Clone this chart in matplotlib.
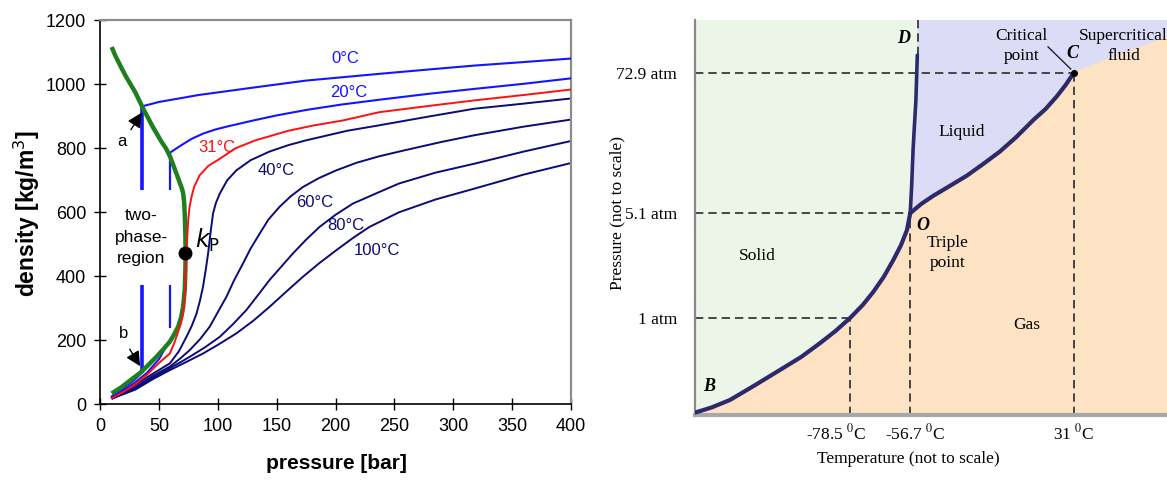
import matplotlib
matplotlib.use("Agg")
import matplotlib.pyplot as plt

# ---------------- left panel: CO2 density isotherms ----------------
p_0C = [35.3, 50, 84, 130, 175, 237, 280, 318, 360, 400]
rho_0C = [931, 945, 967, 990, 1012, 1033, 1047, 1059, 1070, 1081]
p_0C_gas = [10, 20, 30, 35.3]
rho_0C_gas = [24, 48, 78, 97]

p_20C = [59.3, 65, 70, 78, 87.5, 98, 110, 130, 150, 175, 205, 237, 280, 318, 360, 400]
rho_20C = [786, 800, 812, 830, 846, 859, 870, 887, 903, 920, 937, 952, 971, 986, 1002, 1019]
p_20C_gas = [10, 20, 30, 40, 50, 57]
rho_20C_gas = [20, 42, 68, 98, 140, 185]

p_31C = [10, 20, 30, 40, 50, 59.3, 63, 66, 68.5, 70.6, 71.6, 72.3, 73, 73.4, 74.2, 74.9,
         76, 77.7, 80, 84.7, 92, 102, 115, 132, 160, 182, 206, 237, 280, 318, 360, 400]
rho_31C = [18, 38, 62, 92, 128, 158, 190, 222, 250, 283, 320, 367, 430, 471, 530, 575,
           615, 648, 680, 716, 745, 768, 800, 825, 855, 872, 887, 913, 933, 950, 967, 984]

p_40C = [10.7, 30, 45, 59.3, 67, 73.4, 78, 82, 85, 87.5, 89.8, 91.8, 94, 96, 98.5,
         101.7, 108, 115.8, 128, 144, 160, 175, 210, 237, 280, 318, 360, 400]
rho_40C = [18, 60, 95, 127, 165, 210, 245, 283, 325, 367, 420, 471, 540, 596, 630,
           658, 700, 731, 763, 790, 810, 825, 855, 872, 900, 924, 940, 956]

p_60C = [10.7, 30, 45, 59.3, 68, 76.3, 85, 93.2, 100, 107.3, 114, 121.5, 128, 135.6,
         143, 152.5, 162, 172.3, 186, 200.6, 218, 237, 260, 290, 318, 360, 400]
rho_60C = [18, 53, 88, 117, 142, 169, 203, 242, 287, 335, 388, 440, 487, 533,
           577, 617, 650, 679, 707, 731, 755, 775, 795, 820, 841, 868, 890]

p_80C = [10.7, 30, 45, 59.3, 68, 76.3, 89, 101.7, 113, 124.3, 134, 144, 154, 163.8,
         175, 186.4, 200, 214.7, 237, 254, 285, 318, 360, 400]
rho_80C = [18, 48, 82, 112, 130, 148, 177, 210, 250, 294, 340, 388, 430, 471,
           514, 554, 592, 627, 663, 690, 724, 752, 790, 823]

p_100C = [10.7, 30, 45, 59.3, 73, 87.5, 101, 115.8, 130, 144, 158, 172.3, 186, 200.6,
          215, 228.8, 254, 285, 318, 360, 400]
rho_100C = [18, 45, 78, 106, 131, 158, 187, 221, 260, 304, 351, 398, 440, 481,
            520, 554, 600, 640, 674, 718, 754]

# coexistence (saturation) curve
p_sat = [9.9, 13, 16, 19, 22, 26, 30, 36.7, 45, 52, 56, 59.3, 62, 64, 66.5, 68, 69.5,
         70.6, 71.5, 72, 72.5, 72.7, 72.5, 72, 70.6, 68.8, 66.4, 63, 59.3, 53, 48, 41,
         35.3, 30, 25, 18, 9.9]
rho_sat = [1117, 1090, 1068, 1046, 1025, 1000, 975, 924, 866, 822, 800, 776, 750, 730,
           705, 690, 675, 660, 630, 590, 530, 471, 420, 360, 304, 270, 242, 218, 195,
           168, 148, 122, 101, 86, 72, 52, 33]

# two-phase tie lines (vertical) at 0 and 20 degC, broken around the label
tie_p = [35.3, 59.3]
tie_top = [931, 786]
tie_bottom = [97, 237]
gap_lo, gap_hi = 372, 670

crit_p, crit_rho = 72.4, 471

# ---------------- right panel: CO2 phase diagram (schematic) ----------------
subl_T = [0, 3.5, 7.4, 12.5, 18.0, 22.5, 26.5, 29.8, 32.8, 35.5, 37.8, 40.0, 42.0,
          43.6, 44.9, 45.6]
subl_P = [0.6, 1.9, 3.8, 7.4, 11.4, 14.7, 18.2, 21.3, 24.5, 27.8, 31.2, 35.0, 39.2,
          42.9, 46.8, 51.1]
melt_T = [45.6, 45.9, 46.2, 46.5, 46.8, 47.1]
melt_P = [51.1, 58.0, 67.1, 73.5, 79.7, 91.1]
vap_T = [45.6, 48.0, 50.5, 54.0, 57.6, 61.0, 64.6, 68.0, 71.7, 74.3, 76.6, 78.5, 80.3]
vap_P = [51.1, 53.5, 55.5, 58.0, 60.6, 63.5, 66.7, 70.3, 74.7, 77.5, 80.6, 83.5, 86.7]
super_T = [80.3, 85.8, 100]
super_P = [86.7, 89.4, 95.7]

T_marks = [32.8, 45.6, 80.3]
T_labels = ["-78.5 $^{0}$C", "-56.7 $^{0}$C", "31 $^{0}$C"]
P_marks = [86.7, 51.1, 24.5]
P_labels = ["72.9 atm", "5.1 atm", "1 atm"]
D_T = 47.2

fig = plt.figure(figsize=(11.67, 4.86), dpi=100)
W, H = 1167, 486

# ---- left axes ----
ax = fig.add_axes([100 / W, (H - 404) / H, 471 / W, 383.5 / H])
sans = ["Liberation Sans", "DejaVu Sans"]
blue, navy, red, green = "#1414ff", "#0b0b78", "#ff1010", "#1f7f1f"

for pp, rr in [(p_40C, rho_40C), (p_60C, rho_60C), (p_80C, rho_80C), (p_100C, rho_100C)]:
    ax.plot(pp, rr, color=navy, lw=1.4, zorder=2)
ax.plot(p_0C_gas, rho_0C_gas, color=blue, lw=1.5, zorder=2)
ax.plot(p_20C_gas, rho_20C_gas, color=blue, lw=1.5, zorder=2)
ax.plot(p_0C, rho_0C, color=blue, lw=1.5, zorder=3)
ax.plot(p_20C, rho_20C, color=blue, lw=1.5, zorder=3)
for i, (x, t, b) in enumerate(zip(tie_p, tie_top, tie_bottom)):
    w = 2.6 if i == 0 else 1.6
    ax.plot([x, x], [gap_hi, t], color=blue, lw=w, zorder=3, solid_capstyle="butt")
    ax.plot([x, x], [b, gap_lo], color=blue, lw=w, zorder=3, solid_capstyle="butt")
ax.plot(p_sat, rho_sat, color=green, lw=3.2, zorder=4, solid_capstyle="butt")
ax.plot(p_31C, rho_31C, color=red, lw=1.4, zorder=5)
ax.plot([crit_p], [crit_rho], "o", color="black", ms=9, zorder=6)

ax.set_xlim(0, 400)
ax.set_ylim(0, 1200)
ax.set_xticks(range(0, 401, 50))
ax.set_yticks(range(0, 1201, 200))
ax.tick_params(direction="inout", length=8, width=1, labelsize=13, pad=6)
for lab in ax.get_xticklabels() + ax.get_yticklabels():
    lab.set_family(sans)
for s in ["top", "right"]:
    ax.spines[s].set_color("#8c8c8c")
    ax.spines[s].set_linewidth(1.6)
for s in ["left", "bottom"]:
    ax.spines[s].set_linewidth(1.2)

lab_kw = dict(family=sans, fontsize=12, ha="center", va="center")
ax.text(208, 1082, "0°C", color=blue, **lab_kw)
ax.text(211, 975, "20°C", color=blue, **lab_kw)
ax.text(99, 804, "31°C", color=red, **lab_kw)
ax.text(150, 731, "40°C", color=navy, **lab_kw)
ax.text(182, 632, "60°C", color=navy, **lab_kw)
ax.text(209, 559, "80°C", color=navy, **lab_kw)
ax.text(235, 481, "100°C", color=navy, **lab_kw)
ax.text(35, 522, "two-\nphase-\nregion", family=sans, fontsize=12.5,
        ha="center", va="center", linespacing=1.55)
ax.text(91, 512, r"$k_\mathsf{P}$", fontsize=17, ha="center", va="center",
        math_fontfamily="dejavusans")
ax.text(19, 820, "a", family=sans, fontsize=12, ha="center", va="center")
ax.text(20, 221, "b", family=sans, fontsize=12, ha="center", va="center")
arw = dict(arrowstyle="-|>", color="black", lw=1.0, mutation_scale=22)
ax.annotate("", xy=(36.7, 919), xytext=(25, 851), arrowprops=arw)
ax.annotate("", xy=(35.3, 111), xytext=(24, 179), arrowprops=arw)

fig.text(336 / W, 1 - 463 / H, "pressure [bar]", family=sans, fontsize=15,
         fontweight="bold", ha="center", va="center")
fig.text(27 / W, 1 - 214 / H, "density [kg/m$^3$]", family=sans, fontsize=16.5,
         fontweight="bold", ha="center", va="center", rotation=90,
         math_fontfamily="dejavusans")

# ---- right axes ----
bx = fig.add_axes([695 / W, (H - 415) / H, 472 / W, 395 / H])
serif = ["Liberation Serif", "DejaVu Serif"]
c_liq, c_sol, c_gas, c_line = "#dcdcf6", "#ebf6e9", "#fde3c3", "#2c2a6c"
bx.set_facecolor(c_liq)
bx.set_xlim(0, 100)
bx.set_ylim(0, 100)

sol_x = [0] + subl_T + melt_T[1:] + [D_T, 0]
sol_y = [0] + subl_P + melt_P[1:] + [100, 100]
bx.fill(sol_x, sol_y, color=c_sol, lw=0, zorder=1)
gas_x = subl_T + vap_T[1:] + super_T[1:] + [100, 0]
gas_y = subl_P + vap_P[1:] + super_P[1:] + [0, 0]
bx.fill(gas_x, gas_y, color=c_gas, lw=0, zorder=1)

# dashed guide lines from the axes to the curve points
one_atm = subl_P.index(24.5)
dash = dict(color="#2a2a2a", lw=1.2, dashes=(5, 3), zorder=2)
for pm, tx in zip(P_marks, [vap_T[-1], subl_T[-1], subl_T[one_atm]]):
    bx.plot([0, tx], [pm, pm], **dash)
for tm, py in zip(T_marks, [subl_P[one_atm], subl_P[-1], vap_P[-1]]):
    bx.plot([tm, tm], [0, py], **dash)
bx.plot([D_T, D_T], [melt_P[-1], 100], **dash)

bx.plot(subl_T, subl_P, color=c_line, lw=3, zorder=3, solid_capstyle="round")
bx.plot(melt_T, melt_P, color=c_line, lw=2.6, zorder=3, solid_capstyle="round")
bx.plot(vap_T, vap_P, color=c_line, lw=3, zorder=3, solid_capstyle="round")
bx.plot([vap_T[-1]], [vap_P[-1]], "o", color="black", ms=4, zorder=4)
bx.plot([74.8, 79.6], [93.2, 87.6], color="#222222", lw=1, zorder=4)

bx.set_xticks(T_marks)
bx.set_xticklabels([])
bx.set_yticks(P_marks)
bx.set_yticklabels(P_labels)
bx.tick_params(length=0, labelsize=12.5, pad=13)
for lab in bx.get_yticklabels():
    lab.set_family(serif)
for tx, lab in zip([29.9, 46.6, 80.3], T_labels):
    bx.text(tx, -4.6, lab, family=serif, fontsize=12.5, ha="center", va="center",
            math_fontfamily="stix", clip_on=False)

bx.spines["top"].set_visible(False)
bx.spines["right"].set_visible(False)
bx.spines["left"].set_color("#8a8a8a")
bx.spines["left"].set_linewidth(1.6)
bx.spines["bottom"].set_color("#a8a8a8")
bx.spines["bottom"].set_linewidth(3)

rk = dict(family=serif, fontsize=12.5, ha="center", va="center", zorder=5)
bx.text(13.1, 40.3, "Solid", **rk)
bx.text(56.6, 71.6, "Liquid", **rk)
bx.text(70.3, 22.8, "Gas", **rk)
bx.text(53.6, 41.0, "Triple\npoint", linespacing=1.35, **rk)
bx.text(69.2, 93.5, "Critical\npoint", linespacing=1.35, **rk)
bx.text(90.8, 93.5, "Supercritical\nfluid", linespacing=1.35, **rk)
ik = dict(family=serif, fontsize=13, style="italic", fontweight="bold",
          ha="center", va="center", zorder=5)
bx.text(44.1, 95.4, "D", **ik)
bx.text(48.3, 48.0, "O", **ik)
bx.text(80.0, 91.6, "C", **ik)
bx.text(3.0, 7.1, "B", **ik)

fig.text(908 / W, 1 - 459 / H, "Temperature (not to scale)", family=serif,
         fontsize=12.5, ha="center", va="center")
fig.text(617 / W, 1 - 213 / H, "Pressure (not to scale)", family=serif,
         fontsize=12.5, ha="center", va="center", rotation=90)

fig.savefig("out.png", dpi=100)
